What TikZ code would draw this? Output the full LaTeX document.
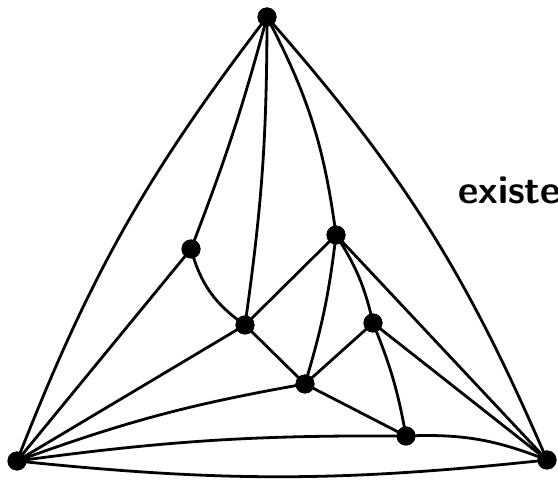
\documentclass[tikz,border=0pt]{standalone}
\begin{document}
\begin{tikzpicture}[x=1pt,y=1pt,
  vtx/.style={circle,fill=black,inner sep=0pt,minimum size=19pt},
  edge/.style={line width=2.8pt,black}]
\clip (0,0) rectangle (558,-481);
\node[vtx] (T) at (267,-17) {};
\node[vtx] (L) at (17,-461) {};
\node[vtx] (R) at (547,-460) {};
\node[vtx] (A) at (191,-249) {};
\node[vtx] (B) at (336,-235) {};
\node[vtx] (C) at (245,-325) {};
\node[vtx] (D) at (373,-323) {};
\node[vtx] (E) at (305,-384) {};
\node[vtx] (F) at (406,-436) {};
\begin{scope}[edge]
\draw (T.center) to[bend right=8] (L.center);
\draw (T.center) to[bend left=9] (R.center);
\draw (T.center) to[bend left=3] (A.center);
\draw (T.center) to[bend left=4] (C.center);
\draw (T.center) to[bend left=10] (B.center);
\draw (L.center) -- (A.center);
\draw (L.center) -- (C.center);
\draw (L.center) to[bend left=5] (E.center);
\draw (L.center) to[bend left=4] (F.center);
\draw (L.center) to[bend right=6] (R.center);
\draw (F.center) to[bend left=12] (R.center);
\draw (A.center) to[bend right=20] (C.center);
\draw (C.center) -- (B.center);
\draw (C.center) -- (E.center);
\draw (B.center) to[bend left=5] (E.center);
\draw (B.center) to[bend left=10] (D.center);
\draw (B.center) -- (R.center);
\draw (D.center) -- (R.center);
\draw (D.center) -- (E.center);
\draw (D.center) to[bend left=6] (F.center);
\draw (E.center) -- (F.center);
\end{scope}
\foreach \n in {T,L,R,A,B,C,D,E,F} \node[vtx] at (\n) {};
\node[anchor=base west,inner sep=0pt,font=\fontsize{39.5}{46}\selectfont\sffamily\bfseries] (lbl) at (458,-204) {existe};
\end{tikzpicture}
\end{document}
